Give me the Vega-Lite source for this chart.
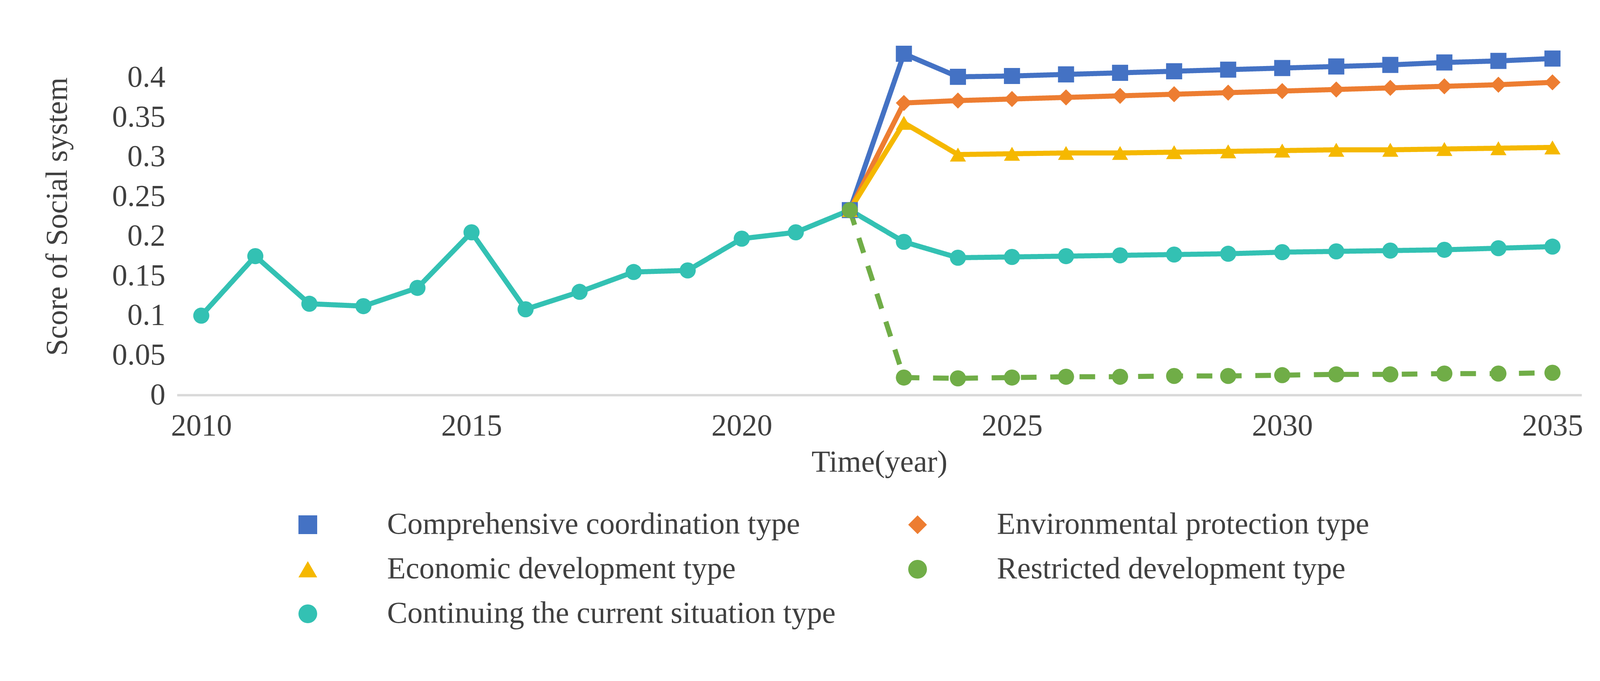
{
  "$schema": "https://vega.github.io/schema/vega-lite/v6.json",
  "width": 3596, "height": 914,
  "autosize": {"type": "none"},
  "padding": {"left": 453, "top": 97, "right": 130, "bottom": 640},
  "background": "white",
  "config": {"view": {"stroke": null}, "font": "Liberation Serif"},
  "datasets": {
    "d": [
      {"year":2010,"s":"Continuing the current situation type","v":0.100},
      {"year":2011,"s":"Continuing the current situation type","v":0.175},
      {"year":2012,"s":"Continuing the current situation type","v":0.115},
      {"year":2013,"s":"Continuing the current situation type","v":0.112},
      {"year":2014,"s":"Continuing the current situation type","v":0.135},
      {"year":2015,"s":"Continuing the current situation type","v":0.205},
      {"year":2016,"s":"Continuing the current situation type","v":0.108},
      {"year":2017,"s":"Continuing the current situation type","v":0.130},
      {"year":2018,"s":"Continuing the current situation type","v":0.155},
      {"year":2019,"s":"Continuing the current situation type","v":0.157},
      {"year":2020,"s":"Continuing the current situation type","v":0.197},
      {"year":2021,"s":"Continuing the current situation type","v":0.205},
      {"year":2022,"s":"Continuing the current situation type","v":0.233},
      {"year":2023,"s":"Continuing the current situation type","v":0.193},
      {"year":2024,"s":"Continuing the current situation type","v":0.173},
      {"year":2025,"s":"Continuing the current situation type","v":0.174},
      {"year":2026,"s":"Continuing the current situation type","v":0.175},
      {"year":2027,"s":"Continuing the current situation type","v":0.176},
      {"year":2028,"s":"Continuing the current situation type","v":0.177},
      {"year":2029,"s":"Continuing the current situation type","v":0.178},
      {"year":2030,"s":"Continuing the current situation type","v":0.180},
      {"year":2031,"s":"Continuing the current situation type","v":0.181},
      {"year":2032,"s":"Continuing the current situation type","v":0.182},
      {"year":2033,"s":"Continuing the current situation type","v":0.183},
      {"year":2034,"s":"Continuing the current situation type","v":0.185},
      {"year":2035,"s":"Continuing the current situation type","v":0.187},

      {"year":2022,"s":"Comprehensive coordination type","v":0.233},
      {"year":2023,"s":"Comprehensive coordination type","v":0.430},
      {"year":2024,"s":"Comprehensive coordination type","v":0.401},
      {"year":2025,"s":"Comprehensive coordination type","v":0.402},
      {"year":2026,"s":"Comprehensive coordination type","v":0.404},
      {"year":2027,"s":"Comprehensive coordination type","v":0.406},
      {"year":2028,"s":"Comprehensive coordination type","v":0.408},
      {"year":2029,"s":"Comprehensive coordination type","v":0.410},
      {"year":2030,"s":"Comprehensive coordination type","v":0.412},
      {"year":2031,"s":"Comprehensive coordination type","v":0.414},
      {"year":2032,"s":"Comprehensive coordination type","v":0.416},
      {"year":2033,"s":"Comprehensive coordination type","v":0.419},
      {"year":2034,"s":"Comprehensive coordination type","v":0.421},
      {"year":2035,"s":"Comprehensive coordination type","v":0.424},

      {"year":2022,"s":"Environmental protection type","v":0.233},
      {"year":2023,"s":"Environmental protection type","v":0.368},
      {"year":2024,"s":"Environmental protection type","v":0.371},
      {"year":2025,"s":"Environmental protection type","v":0.373},
      {"year":2026,"s":"Environmental protection type","v":0.375},
      {"year":2027,"s":"Environmental protection type","v":0.377},
      {"year":2028,"s":"Environmental protection type","v":0.379},
      {"year":2029,"s":"Environmental protection type","v":0.381},
      {"year":2030,"s":"Environmental protection type","v":0.383},
      {"year":2031,"s":"Environmental protection type","v":0.385},
      {"year":2032,"s":"Environmental protection type","v":0.387},
      {"year":2033,"s":"Environmental protection type","v":0.389},
      {"year":2034,"s":"Environmental protection type","v":0.391},
      {"year":2035,"s":"Environmental protection type","v":0.394},

      {"year":2022,"s":"Economic development type","v":0.233},
      {"year":2023,"s":"Economic development type","v":0.343},
      {"year":2024,"s":"Economic development type","v":0.303},
      {"year":2025,"s":"Economic development type","v":0.304},
      {"year":2026,"s":"Economic development type","v":0.305},
      {"year":2027,"s":"Economic development type","v":0.305},
      {"year":2028,"s":"Economic development type","v":0.306},
      {"year":2029,"s":"Economic development type","v":0.307},
      {"year":2030,"s":"Economic development type","v":0.308},
      {"year":2031,"s":"Economic development type","v":0.309},
      {"year":2032,"s":"Economic development type","v":0.309},
      {"year":2033,"s":"Economic development type","v":0.310},
      {"year":2034,"s":"Economic development type","v":0.311},
      {"year":2035,"s":"Economic development type","v":0.312},

      {"year":2022,"s":"Restricted development type","v":0.233},
      {"year":2023,"s":"Restricted development type","v":0.022},
      {"year":2024,"s":"Restricted development type","v":0.021},
      {"year":2025,"s":"Restricted development type","v":0.022},
      {"year":2026,"s":"Restricted development type","v":0.023},
      {"year":2027,"s":"Restricted development type","v":0.023},
      {"year":2028,"s":"Restricted development type","v":0.024},
      {"year":2029,"s":"Restricted development type","v":0.024},
      {"year":2030,"s":"Restricted development type","v":0.025},
      {"year":2031,"s":"Restricted development type","v":0.026},
      {"year":2032,"s":"Restricted development type","v":0.026},
      {"year":2033,"s":"Restricted development type","v":0.027},
      {"year":2034,"s":"Restricted development type","v":0.027},
      {"year":2035,"s":"Restricted development type","v":0.028}
    ]
  },
  "data": {"name": "d"},
  "encoding": {
    "x": {"field": "year", "type": "quantitative",
      "scale": {"domain": [2009.55, 2035.54], "nice": false, "zero": false},
      "axis": {"values": [2010,2015,2020,2025,2030,2035], "format": "d", "grid": false,
        "ticks": false, "domainColor": "#d9d9d9", "domainWidth": 6, "labelFontSize": 78,
        "labelColor": "#404040", "labelPadding": 40, "title": "Time(year)", "titleFontSize": 78,
        "titleFontWeight": "normal", "titleColor": "#404040", "titlePadding": 15}},
    "y": {"field": "v", "type": "quantitative",
      "scale": {"domain": [0, 0.45], "nice": false},
      "axis": {"values": [0,0.05,0.1,0.15,0.2,0.25,0.3,0.35,0.4], "format": "~g", "grid": false, "domain": false,
        "ticks": false, "labelFontSize": 78, "labelColor": "#404040", "labelPadding": 30,
        "title": "Score of Social  system", "titleFontSize": 78, "titleFontWeight": "normal",
        "titleColor": "#404040", "titlePadding": 100}},
    "color": {"field": "s", "type": "nominal",
      "scale": {"domain": ["Comprehensive coordination type","Environmental protection type","Economic development type","Restricted development type","Continuing the current situation type"],
        "range": ["#4472C4","#ED7D31","#F5B800","#70AD47","#33C1B3"]},
      "legend": {"orient": "none", "legendX": 296, "legendY": 1207, "direction": "horizontal",
        "columns": 2, "title": null, "labelFontSize": 78, "labelColor": "#404040", "labelLimit": 2000,
        "symbolSize": 2300, "symbolStrokeWidth": 0, "labelOffset": 164, "rowPadding": 36,
        "columnPadding": 170, "symbolOpacity": 1}},
    "shape": {"field": "s", "type": "nominal",
      "scale": {"domain": ["Comprehensive coordination type","Environmental protection type","Economic development type","Restricted development type","Continuing the current situation type"],
        "range": ["square","diamond","triangle-up","circle","circle"]}}
  },
  "layer": [
    {"mark": {"type": "line", "strokeWidth": 13},
     "encoding": {"strokeDash": {"condition": {"test": "datum.s === 'Restricted development type'", "value": [40, 35]}, "value": [1, 0]},
       "strokeWidth": {"condition": {"test": "datum.s === 'Restricted development type'", "value": 8}, "value": 13},
       "shape": {"value": null}}},
    {"mark": {"type": "point", "filled": true, "opacity": 1, "size": 1700}}
  ]
}
